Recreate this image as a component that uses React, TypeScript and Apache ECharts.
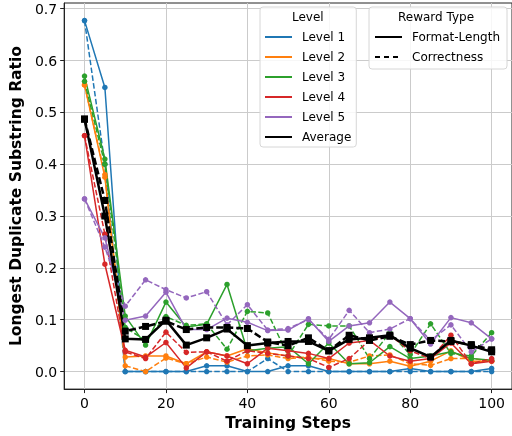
import React, { useEffect, useRef } from "react";
import * as echarts from "echarts";

const steps = [0, 5, 10, 15, 20, 25, 30, 35, 40, 45, 50, 55, 60, 65, 70, 75, 80, 85, 90, 95, 100];
const xTicks = [0, 20, 40, 60, 80, 100];
const yTicks = [0, 0.1, 0.2, 0.3, 0.4, 0.5, 0.6, 0.7];

const levelNames = ["Level 1", "Level 2", "Level 3", "Level 4", "Level 5"];
const levelColors = ["#1f77b4", "#ff7f0e", "#2ca02c", "#d62728", "#9467bd"];

// Format-Length reward (solid)
const l1FormatLength = [0.677, 0.548, 0, 0, 0, 0, 0.011, 0.011, 0, 0, 0.011, 0.011, 0, 0, 0, 0, 0.006, 0, 0, 0, 0.006];
const l2FormatLength = [0.553, 0.375, 0.028, 0.03, 0.03, 0.015, 0.038, 0.03, 0.044, 0.036, 0.03, 0.025, 0.025, 0.015, 0.015, 0.02, 0.01, 0.02, 0.04, 0.02, 0.02];
const l3FormatLength = [0.57, 0.41, 0.107, 0.051, 0.134, 0.086, 0.091, 0.168, 0.04, 0.045, 0.048, 0.015, 0.055, 0.015, 0.017, 0.048, 0.025, 0.03, 0.038, 0.025, 0.022];
const l4FormatLength = [0.455, 0.207, 0.041, 0.028, 0.056, 0.007, 0.038, 0.03, 0.015, 0.045, 0.04, 0.035, 0.025, 0.055, 0.06, 0.03, 0.02, 0.025, 0.055, 0.015, 0.02];
const l5FormatLength = [0.333, 0.258, 0.099, 0.107, 0.153, 0.081, 0.081, 0.103, 0.095, 0.079, 0.08, 0.102, 0.058, 0.088, 0.094, 0.134, 0.102, 0.053, 0.104, 0.094, 0.063];
const avgFormatLength = [0.487, 0.3, 0.063, 0.062, 0.099, 0.051, 0.065, 0.082, 0.05, 0.055, 0.058, 0.058, 0.04, 0.062, 0.065, 0.07, 0.045, 0.028, 0.06, 0.05, 0.038];

// Correctness reward (dashed)
const l1Correctness = [0.677, 0.4, 0, 0, 0, 0, 0, 0, 0, 0.025, 0, 0, 0, 0, 0, 0, 0, 0, 0, 0, 0];
const l2Correctness = [0.553, 0.38, 0.011, 0, 0.026, 0.015, 0.028, 0.018, 0.03, 0.032, 0.025, 0.028, 0.02, 0.018, 0.03, 0.032, 0.015, 0.012, 0.025, 0.025, 0.02];
const l3Correctness = [0.56, 0.4, 0.085, 0.06, 0.106, 0.089, 0.092, 0.043, 0.116, 0.113, 0.03, 0.091, 0.088, 0.088, 0.025, 0.075, 0.033, 0.092, 0.035, 0.03, 0.075];
const l4Correctness = [0.455, 0.265, 0.038, 0.025, 0.076, 0.037, 0.038, 0.02, 0.04, 0.035, 0.03, 0.025, 0.008, 0.025, 0.06, 0.07, 0.04, 0.025, 0.07, 0.015, 0.025];
const l5Correctness = [0.333, 0.24, 0.126, 0.177, 0.158, 0.142, 0.154, 0.09, 0.129, 0.08, 0.083, 0.1, 0.062, 0.118, 0.075, 0.082, 0.102, 0.06, 0.09, 0.038, 0.063];
const avgCorrectness = [0.487, 0.33, 0.078, 0.087, 0.097, 0.081, 0.085, 0.085, 0.083, 0.057, 0.05, 0.065, 0.04, 0.07, 0.06, 0.068, 0.052, 0.06, 0.058, 0.052, 0.042];

const formatLength = [l1FormatLength, l2FormatLength, l3FormatLength, l4FormatLength, l5FormatLength];
const correctness = [l1Correctness, l2Correctness, l3Correctness, l4Correctness, l5Correctness];

const FONT = "DejaVu Sans";
const DASH = [5.5, 2.4];

export default function App() {
  const ref = useRef<HTMLDivElement>(null);
  useEffect(() => {
    if (!ref.current) return;
    const chart = echarts.init(ref.current, null, { renderer: "svg" });
    const toPts = (arr: number[]) => steps.map((s, i) => [s, arr[i]]);
    const series: any[] = [];
    // legend-only series
    levelNames.forEach((n, i) => {
      series.push({ type: "line", name: n, data: [], symbol: "none", lineStyle: { color: levelColors[i], width: 2 }, itemStyle: { color: levelColors[i] } });
    });
    series.push({ type: "line", name: "Average", data: [], symbol: "none", lineStyle: { color: "#000", width: 2.5 }, itemStyle: { color: "#000" } });
    series.push({ type: "line", name: "Format-Length", data: [], symbol: "none", lineStyle: { color: "#000", width: 2 }, itemStyle: { color: "#000" } });
    series.push({ type: "line", name: "Correctness", data: [], symbol: "none", lineStyle: { color: "#000", width: 2, type: [5, 4] }, itemStyle: { color: "#000" } });

    levelNames.forEach((n, i) => {
      series.push({
        type: "line", name: n + " Format-Length", data: toPts(formatLength[i]),
        symbol: "circle", symbolSize: 5.5, showSymbol: true,
        lineStyle: { color: levelColors[i], width: 1.5 }, itemStyle: { color: levelColors[i] },
      });
      series.push({
        type: "line", name: n + " Correctness", data: toPts(correctness[i]),
        symbol: "circle", symbolSize: 5.5, showSymbol: true,
        lineStyle: { color: levelColors[i], width: 1.5, type: DASH }, itemStyle: { color: levelColors[i] },
      });
    });
    series.push({
      type: "line", name: "Average Format-Length", data: toPts(avgFormatLength),
      symbol: "rect", symbolSize: 7, lineStyle: { color: "#000", width: 2.5 }, itemStyle: { color: "#000" },
    });
    series.push({
      type: "line", name: "Average Correctness", data: toPts(avgCorrectness),
      symbol: "rect", symbolSize: 7, lineStyle: { color: "#000", width: 2.5, type: [7, 3] }, itemStyle: { color: "#000" },
    });

    const legendCommon = {
      orient: "vertical",
      itemWidth: 27,
      itemHeight: 14,
      itemGap: 8,
      backgroundColor: "rgba(255,255,255,0.85)",
      borderColor: "#d6d6d6",
      borderWidth: 1,
      borderRadius: 3,
      itemStyle: { opacity: 0 },
      textStyle: { fontFamily: FONT, fontSize: 12, color: "#000", padding: [0, 0, 0, 5] },
      inactiveColor: "#000",
    };

    chart.setOption({
      animation: false,
      grid: { left: 61.5, top: 3, width: 453, height: 388, show: true, borderColor: "#222", borderWidth: 1, backgroundColor: "transparent" },
      xAxis: {
        type: "value", min: -5, max: 105,
        name: "Training Steps", nameLocation: "middle", nameGap: 24,
        nameTextStyle: { fontFamily: FONT, fontSize: 15.5, fontWeight: "bold", color: "#000" },
        axisLine: { show: true, onZero: false, lineStyle: { color: "#222", width: 1 } },
        axisTick: { show: true, length: 4, customValues: xTicks, lineStyle: { color: "#222" } },
        axisLabel: { customValues: xTicks, margin: 7, fontFamily: FONT, fontSize: 14, color: "#000" },
        splitLine: { show: true, lineStyle: { color: "#cbcbcb", width: 1 } },
      },
      yAxis: {
        type: "value", min: -0.0339, max: 0.711,
        name: "Longest Duplicate Substring Ratio", nameLocation: "middle", nameGap: 40,
        nameTextStyle: { fontFamily: FONT, fontSize: 15.5, fontWeight: "bold", color: "#000" },
        axisLine: { show: true, onZero: false, lineStyle: { color: "#222", width: 1 } },
        axisTick: { show: true, length: 4, customValues: yTicks, lineStyle: { color: "#222" } },
        axisLabel: { customValues: yTicks, margin: 7, fontFamily: FONT, fontSize: 14, color: "#000", formatter: (v: number) => v.toFixed(1) },
        splitLine: { show: true, lineStyle: { color: "#cbcbcb", width: 1 } },
      },
      legend: [
        { ...legendCommon, left: 260, top: 7, padding: [24, 5, 4, 4], data: [...levelNames, "Average"] },
        { ...legendCommon, left: 369, top: 7, padding: [24, 7, 6, 5], data: ["Format-Length", "Correctness"] },
      ],
      graphic: [
        { type: "text", left: 292, top: 11, z: 100, style: { text: "Level", font: `12px '${FONT}'`, fill: "#000" } },
        { type: "text", left: 398, top: 11, z: 100, style: { text: "Reward Type", font: `12px '${FONT}'`, fill: "#000" } },
      ],
      series,
    });
    return () => chart.dispose();
  }, []);
  return <div ref={ref} style={{ position: "fixed", left: 0, top: 0, width: 512, height: 436 }} />;
}
